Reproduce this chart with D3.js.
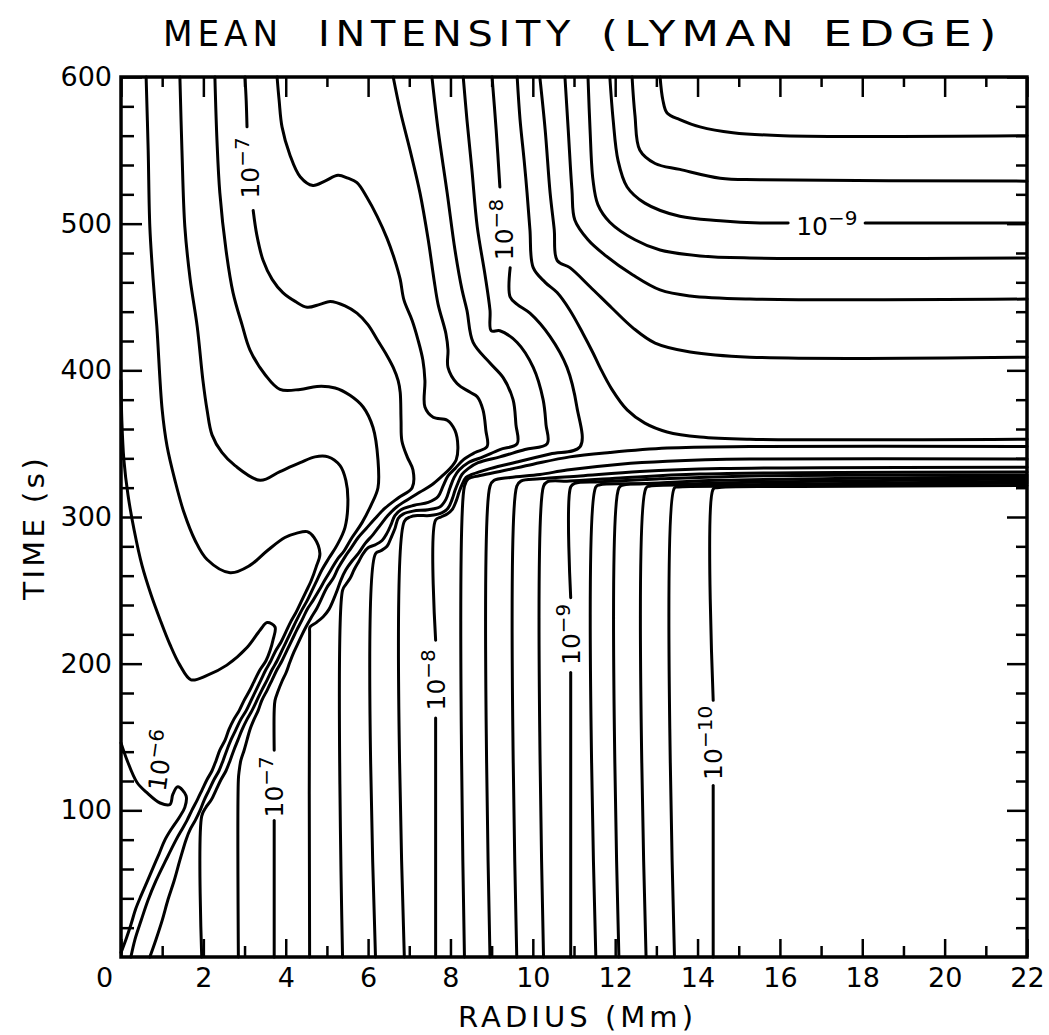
<!DOCTYPE html>
<html>
<head>
<meta charset="utf-8">
<script src="https://cdn.jsdelivr.net/npm/d3@7"></script>
<style>
  html, body { margin: 0; padding: 0; background: #fff; }
  svg { display: block; }
  text { font-family: "DejaVu Sans", sans-serif; fill: #000; }
</style>
</head>
<body>
<svg id="chart" width="1049" height="1035"></svg>
<script>
// contours of the mean intensity at the Lyman edge, one every 0.2 dex
// points are [radius (Mm), time (s)]; a contour can have gaps where its label sits

const c60 = [[[0,146],[0.15,134],[0.39,119],[0.63,112],[0.95,105],[1.19,104],[1.26,111],[1.38,116],[1.58,110],[1.55,102],[1.41,95],[1.24,88],[1.07,80],[0.92,70],[0.78,61],[0.63,51],[0.49,42],[0.36,33],[0.24,22],[0.12,12],[0,3]]];

const c62 = [[[0,393],[0.02,366],[0.07,339],[0.17,315],[0.32,291],[0.51,267],[0.73,247],[0.95,230],[1.19,213],[1.43,199],[1.70,189],[2.09,192],[2.57,199],[3.06,211],[3.38,223],[3.55,228],[3.74,225],[3.69,216],[3.62,209],[3.52,202],[3.38,196],[3.25,189],[3.13,182],[2.99,175],[2.87,168],[2.74,162],[2.62,155],[2.53,148],[2.40,141],[2.31,134],[2.21,127],[2.09,121],[1.97,114],[1.85,107],[1.72,100],[1.60,93],[1.48,87],[1.34,80],[1.09,66],[0.85,52],[0.66,39],[0.49,25],[0.34,12],[0.24,0]]];

const c64 = [[[0.61,600],[0.66,550],[0.70,498],[0.78,462],[0.87,430],[1.00,373],[1.12,348],[1.31,325],[1.53,303],[1.80,284],[2.09,271],[2.65,262],[3.13,267],[3.55,277],[3.98,286],[4.27,289],[4.52,290],[4.69,286],[4.83,275],[4.74,266],[4.61,256],[4.49,249],[4.37,242],[4.25,235],[4.13,229],[4.01,222],[3.89,215],[3.76,209],[3.64,202],[3.52,196],[3.40,189],[3.28,182],[3.16,175],[3.04,168],[2.91,162],[2.79,155],[2.67,148],[2.57,141],[2.48,134],[2.38,127],[2.26,121],[2.14,114],[2.02,107],[1.92,100],[1.80,93],[1.68,87],[1.58,80],[1.43,66],[1.29,52],[1.14,39],[1.00,25],[0.85,12],[0.70,0]]];

const c66 = [[[1.43,600],[1.48,550],[1.55,498],[1.68,462],[1.85,430],[1.99,393],[2.09,373],[2.21,356],[2.45,344],[2.77,335],[3.38,325],[3.86,331],[4.35,337],[4.71,341],[5.03,341],[5.32,335],[5.46,325],[5.51,312],[5.44,293],[5.25,281],[5.05,272],[4.88,264],[4.76,257],[4.64,250],[4.52,243],[4.40,237],[4.27,230],[4.15,223],[4.03,216],[3.91,209],[3.79,202],[3.67,196],[3.55,189],[3.42,182],[3.30,175],[3.18,168],[3.06,162],[2.94,155],[2.84,148],[2.74,141],[2.65,134],[2.55,127],[2.43,121],[2.31,114],[2.19,107],[2.06,102],[1.96,96],[1.96,0]]];

const c68 = [[[2.28,600],[2.33,557],[2.40,521],[2.55,482],[2.72,453],[2.94,431],[3.13,414],[3.50,397],[3.86,387],[4.35,387],[4.76,389],[5.20,388],[5.56,383],[5.88,375],[6.12,361],[6.24,339],[6.24,320],[6.07,308],[5.85,296],[5.61,286],[5.42,277],[5.25,271],[5.10,264],[4.95,257],[4.81,250],[4.66,243],[4.52,237],[4.40,230],[4.27,223],[4.15,216],[4.03,209],[3.91,202],[3.79,196],[3.67,189],[3.55,182],[3.42,175],[3.33,168],[3.23,162],[3.13,155],[3.06,148],[2.99,141],[2.91,134],[2.87,127],[2.85,121],[2.85,0]]];

const c70 = [
  [[3.01,600],[3.04,584],[3.06,566]],
  [[3.21,509],[3.30,492],[3.45,475],[3.67,462],[3.93,453],[4.23,447],[4.52,443],[4.83,445],[5.08,447],[5.44,444],[5.73,439],[6.00,431],[6.22,421],[6.46,410],[6.61,402],[6.73,393],[6.78,385],[6.80,366],[6.82,352],[6.95,341],[7.09,332],[7.07,320],[6.73,313],[6.41,306],[6.17,299],[5.95,292],[5.76,286],[5.59,279],[5.42,272],[5.27,265],[5.15,258],[5.00,252],[4.88,245],[4.76,238],[4.61,231],[4.49,225],[4.40,220],[4.30,214],[4.20,208],[4.10,201],[4.01,194],[3.91,188],[3.81,181],[3.74,175],[3.72,168],[3.72,141]],
  [[3.72,93],[3.72,0]]
];

const c72 = [[[3.79,600],[3.84,584],[3.91,566],[4.10,547],[4.35,532],[4.66,526],[4.95,529],[5.27,533],[5.51,531],[5.73,528],[5.97,518],[6.22,505],[6.46,490],[6.65,475],[6.78,462],[6.87,448],[7.07,434],[7.21,421],[7.33,407],[7.38,393],[7.38,375],[7.58,368],[7.92,366],[8.11,359],[8.18,348],[8.14,339],[7.99,333],[7.80,328],[7.55,322],[7.26,317],[6.97,312],[6.70,307],[6.48,301],[6.31,295],[6.12,288],[5.93,282],[5.76,275],[5.61,270],[5.46,264],[5.34,257],[5.25,250],[5.15,243],[5.05,237],[4.91,232],[4.74,228],[4.59,225],[4.58,221],[4.58,0]]];

const c74 = [[[6.61,600],[6.78,577],[7.02,550],[7.26,521],[7.46,489],[7.60,462],[7.70,445],[7.89,425],[7.94,414],[7.94,402],[8.16,391],[8.48,385],[8.65,382],[8.79,373],[8.86,359],[8.89,348],[8.60,344],[8.31,339],[8.11,333],[7.94,328],[7.82,321],[7.70,314],[7.46,310],[7.12,308],[6.80,305],[6.65,301],[6.56,295],[6.46,289],[6.34,284],[6.17,281],[6.00,279],[5.88,275],[5.78,270],[5.66,264],[5.56,258],[5.46,254],[5.38,250],[5.38,0]]];

const c76 = [[[7.55,600],[7.70,564],[7.92,521],[8.11,482],[8.28,455],[8.40,441],[8.55,419],[8.96,405],[9.28,395],[9.52,380],[9.59,363],[9.62,350],[9.20,346],[8.79,341],[8.43,337],[8.21,332],[8.09,327],[7.99,320],[7.89,312],[7.75,307],[7.46,305],[7.09,304],[6.85,302],[6.73,299],[6.65,292],[6.56,286],[6.46,280],[6.31,277],[6.18,275],[6.18,0]]];

const c78 = [[[8.31,600],[8.40,571],[8.52,537],[8.65,498],[8.84,465],[8.96,441],[8.99,427],[9.20,427],[9.62,419],[10.01,402],[10.25,380],[10.32,363],[10.35,350],[9.81,346],[9.20,341],[8.67,337],[8.43,333],[8.28,329],[8.18,323],[8.11,318],[8.04,312],[7.94,306],[7.80,303],[7.50,301],[7.21,301],[7.02,300],[6.88,297],[6.88,0]]];

const c80 = [
  [[9.01,600],[9.11,564],[9.20,525]],
  [[9.45,470],[9.45,450],[9.62,445],[9.93,439],[10.42,423],[10.83,402],[11.07,375],[11.15,348],[10.42,343],[9.69,338],[8.96,333],[8.52,329],[8.38,327],[8.28,322],[8.21,317],[8.14,311],[8.04,305],[7.92,302],[7.77,300],[7.64,298],[7.64,216]],
  [[7.64,163],[7.64,0]]
];

// levels below 1e-8: an upper branch from the top edge and a lower branch rising from the r-axis
const c82 = [
  [[9.62,600],[9.69,571],[9.79,543],[9.86,521],[9.93,496],[10.01,470],[10.30,460],[10.59,453],[10.90,441],[11.22,425],[11.46,412],[11.63,402],[11.92,387],[12.29,373],[12.72,364],[13.26,358],[14.06,354.5],[15.27,353],[22,353]],
  [[8.34,0],[8.34,321],[8.43,326],[8.67,328],[9.20,331],[10.01,336],[10.90,341],[11.87,344],[13.26,347],[15.27,348],[22,348]]
];
const c84 = [
  [[10.17,600],[10.30,564],[10.42,521],[10.52,496],[10.59,475],[10.90,470],[11.39,457],[11.92,442.5],[12.43,429],[12.97,418.6],[13.82,412.5],[15.27,409],[22,409]],
  [[8.96,0],[8.96,321],[9.06,325],[9.45,327],[10.17,329],[10.83,332],[12.12,336],[13.26,338],[15.27,339.5],[22,339.5]]
];
const c86 = [
  [[10.78,600],[10.86,564],[10.95,523],[11.02,502.5],[11.34,489],[11.75,478.6],[12.43,465],[13.09,454.8],[13.82,450.7],[15.27,448.6],[22,448.6]],
  [[9.61,0],[9.61,321],[9.71,324.5],[10.17,326],[11.15,328],[12.60,331],[14.55,333],[22,334]]
];
const c88 = [
  [[11.34,600],[11.39,564],[11.46,530],[11.58,513],[11.87,501],[12.48,489],[13.09,482],[14.06,478],[15.27,476.6],[22,476.6]],
  [[10.26,0],[10.26,321],[10.35,324],[10.90,324.5],[12.12,326.6],[14.06,329.3],[22,330.7]]
];
const c90 = [
  [[11.87,600],[11.95,571],[12.07,543],[12.29,525],[12.72,514],[13.57,505],[14.55,502],[15.52,500.5],[16.20,500.5]],
  [[18.07,500.5],[22,500.5]],
  [[10.92,0],[10.92,194]],
  [[10.92,245],[10.92,320.5],[11.02,323],[11.63,324],[13.09,326],[15.27,328],[22,328.6]]
];
const c92 = [
  [[12.41,600],[12.48,574],[12.60,550],[12.97,541],[13.57,537],[14.55,531],[15.52,530],[22,529]],
  [[11.53,0],[11.53,320.5],[11.63,322],[12.60,322.7],[14.55,325],[22,327.3]]
];
const c94 = [
  [[13.09,600],[13.16,584],[13.26,575.5],[13.57,571],[14.06,566],[14.86,562],[16.08,560],[22,560]],
  [[12.09,0],[12.09,319.8],[12.19,321.8],[13.57,322.5],[15.52,323.9],[22,325.9]]
];
const c96 = [[[12.75,0],[12.75,319.8],[12.85,321.1],[14.55,321.8],[22,324.5]]];
const c98 = [[[13.44,0],[13.44,319.8],[13.53,320.5],[15.52,321.1],[22,323.2]]];
const c100 = [
  [[14.38,0],[14.38,117]],
  [[14.38,175],[14.38,319],[14.47,320],[16.49,320.8],[22,321.5]]
];

const contours = [c60, c62, c64, c66, c68, c70, c72, c74, c76, c78, c80,
                  c82, c84, c86, c88, c90, c92, c94, c96, c98, c100];

// contour labels: position [r, t], exponent, rotation
const contourLabels = [
  {r: 0.97, t: 134, exp: "6", rot: -82},
  {r: 3.13, t: 538, exp: "7", rot: -90},
  {r: 3.72, t: 116, exp: "7", rot: -90},
  {r: 9.29, t: 496, exp: "8", rot: -90},
  {r: 7.64, t: 189, exp: "8", rot: -90},
  {r: 17.14, t: 498.5, exp: "9", rot: 0},
  {r: 10.92, t: 220, exp: "9", rot: -90},
  {r: 14.38, t: 146, exp: "10", rot: -90}
];

const xMajor = [0, 2, 4, 6, 8, 10, 12, 14, 16, 18, 20, 22];
const xMinor = [1, 3, 5, 7, 9, 11, 13, 15, 17, 19, 21];
const yMajor = [100, 200, 300, 400, 500, 600];
const yMinor = [20, 40, 60, 80, 120, 140, 160, 180, 220, 240, 260, 280, 320, 340, 360, 380, 420, 440, 460, 480, 520, 540, 560, 580];

// title words with their left edge and width in the figure
const titleWords = [
  {text: "MEAN", x: 163, w: 120},
  {text: "INTENSITY", x: 318, w: 258},
  {text: "(LYMAN", x: 601, w: 199},
  {text: "EDGE)", x: 823, w: 180}
];

const svg = d3.select("#chart");

const x = d3.scaleLinear().domain([0, 22]).range([121, 1027]);
const y = d3.scaleLinear().domain([0, 600]).range([957, 77]);

const line = d3.line()
  .x(d => x(d[0]))
  .y(d => y(d[1]))
  .curve(d3.curveCatmullRom.alpha(0.5));

// contour lines
const plot = svg.append("g")
  .attr("fill", "none")
  .attr("stroke", "#000")
  .attr("stroke-width", 3)
  .attr("stroke-linecap", "round")
  .attr("stroke-linejoin", "round");

contours.forEach(c => {
  c.forEach(seg => {
    plot.append("path").attr("d", line(seg));
  });
});

// labels
contourLabels.forEach(l => {
  const t = svg.append("text")
    .attr("transform", `translate(${x(l.r)},${y(l.t)}) rotate(${l.rot})`)
    .attr("text-anchor", "middle")
    .style("font-size", "25px");
  t.append("tspan").attr("dy", "0.36em").text("10");
  t.append("tspan").attr("dy", "-0.5em").style("font-size", "20px").text("\u2212" + l.exp);
});

// axes, ticks pointing inwards
function styleAxis(g) {
  g.select(".domain").remove();
  g.selectAll(".tick line").attr("stroke-width", 2.5);
  g.selectAll(".tick text").style("font-size", "27px").style("font-family", "DejaVu Sans, sans-serif");
}

const bottom = svg.append("g")
  .attr("transform", `translate(0,${y(0)})`)
  .call(d3.axisBottom(x).tickValues(xMajor).tickSizeInner(-18).tickSizeOuter(0).tickPadding(11))
  .call(styleAxis);
// the origin label sits left of the corner
bottom.selectAll(".tick text").filter(d => d === 0).attr("x", -17);

svg.append("g")
  .attr("transform", `translate(0,${y(0)})`)
  .call(d3.axisBottom(x).tickValues(xMinor).tickSizeInner(-11).tickSizeOuter(0).tickFormat(""))
  .call(styleAxis);

svg.append("g")
  .attr("transform", `translate(0,${y(600)})`)
  .call(d3.axisTop(x).tickValues(xMajor).tickSizeInner(-20).tickSizeOuter(0).tickFormat(""))
  .call(styleAxis);
svg.append("g")
  .attr("transform", `translate(0,${y(600)})`)
  .call(d3.axisTop(x).tickValues(xMinor).tickSizeInner(-10).tickSizeOuter(0).tickFormat(""))
  .call(styleAxis);

svg.append("g")
  .attr("transform", `translate(${x(0)},0)`)
  .call(d3.axisLeft(y).tickValues(yMajor).tickSizeInner(-21).tickSizeOuter(0).tickPadding(9))
  .call(styleAxis);
svg.append("g")
  .attr("transform", `translate(${x(0)},0)`)
  .call(d3.axisLeft(y).tickValues(yMinor).tickSizeInner(-13).tickSizeOuter(0).tickFormat(""))
  .call(styleAxis);

svg.append("g")
  .attr("transform", `translate(${x(22)},0)`)
  .call(d3.axisRight(y).tickValues(yMajor).tickSizeInner(-20).tickSizeOuter(0).tickFormat(""))
  .call(styleAxis);
svg.append("g")
  .attr("transform", `translate(${x(22)},0)`)
  .call(d3.axisRight(y).tickValues(yMinor).tickSizeInner(-11).tickSizeOuter(0).tickFormat(""))
  .call(styleAxis);

// frame
svg.append("rect")
  .attr("x", x(0)).attr("y", y(600))
  .attr("width", x(22) - x(0)).attr("height", y(0) - y(600))
  .attr("fill", "none").attr("stroke", "#000").attr("stroke-width", 3.5);

// titles: wide, letter-spaced lettering
svg.selectAll(".title-word")
  .data(titleWords)
  .enter()
  .append("text")
  .attr("class", "title-word")
  .attr("x", d => d.x).attr("y", 46)
  .attr("textLength", d => d.w).attr("lengthAdjust", "spacingAndGlyphs")
  .style("font-size", "35px")
  .style("letter-spacing", "5px")
  .text(d => d.text);

svg.append("text")
  .attr("x", 458).attr("y", 1027)
  .attr("textLength", 239).attr("lengthAdjust", "spacingAndGlyphs")
  .style("font-size", "29px")
  .style("letter-spacing", "4px")
  .text("RADIUS (Mm)");

svg.append("text")
  .attr("transform", "translate(44,600) rotate(-90)")
  .attr("textLength", 145).attr("lengthAdjust", "spacingAndGlyphs")
  .style("font-size", "29px")
  .style("letter-spacing", "3px")
  .text("TIME (s)");
</script>
</body>
</html>
